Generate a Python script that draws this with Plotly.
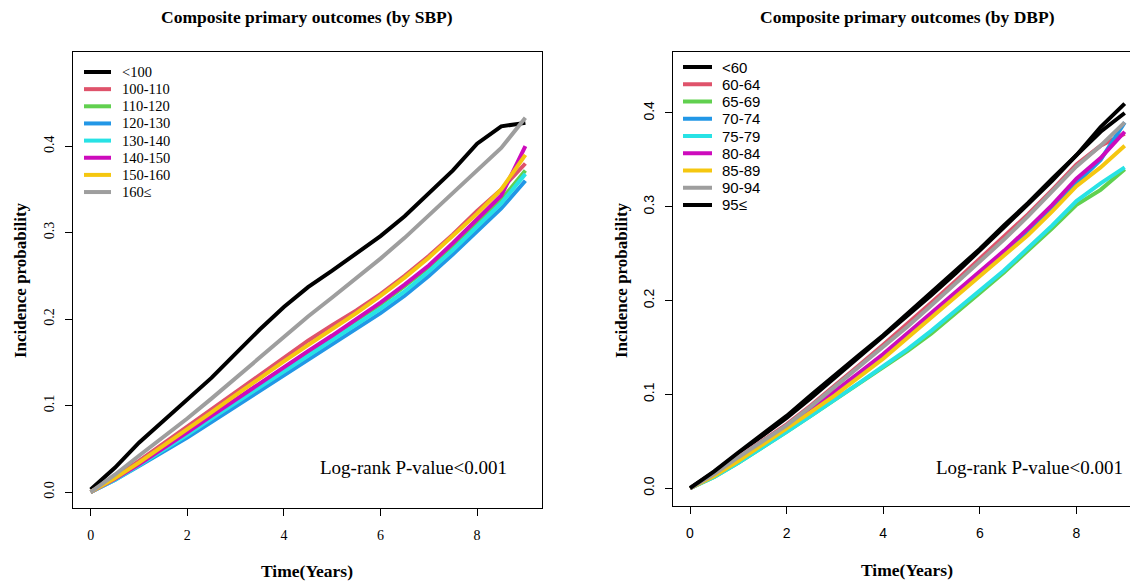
import plotly.graph_objects as go

# ---------------- data ----------------
times = [0, 0.5, 1, 1.5, 2, 2.5, 3, 3.5, 4, 4.5, 5, 5.5, 6, 6.5, 7, 7.5, 8, 8.5, 9]

sbp_labels = ["<100", "100-110", "110-120", "120-130", "130-140", "140-150", "150-160", "160≤"]
sbp_lt100   = [0.003, 0.028, 0.057, 0.082, 0.106, 0.132, 0.160, 0.188, 0.214, 0.237, 0.256, 0.276, 0.296, 0.319, 0.345, 0.372, 0.403, 0.423, 0.427]
sbp_100_110 = [0.000, 0.017, 0.036, 0.056, 0.076, 0.096, 0.116, 0.136, 0.156, 0.175, 0.193, 0.210, 0.229, 0.250, 0.273, 0.298, 0.325, 0.350, 0.380]
sbp_110_120 = [0.000, 0.015, 0.032, 0.050, 0.068, 0.087, 0.106, 0.125, 0.144, 0.162, 0.180, 0.198, 0.217, 0.238, 0.260, 0.285, 0.312, 0.338, 0.372]
sbp_120_130 = [0.000, 0.014, 0.030, 0.046, 0.063, 0.081, 0.099, 0.117, 0.135, 0.153, 0.170, 0.188, 0.207, 0.227, 0.250, 0.275, 0.302, 0.328, 0.360]
sbp_130_140 = [0.000, 0.014, 0.031, 0.048, 0.066, 0.085, 0.103, 0.122, 0.140, 0.158, 0.175, 0.193, 0.212, 0.232, 0.255, 0.280, 0.307, 0.334, 0.368]
sbp_140_150 = [0.000, 0.015, 0.032, 0.050, 0.069, 0.088, 0.107, 0.126, 0.145, 0.163, 0.181, 0.200, 0.219, 0.240, 0.262, 0.288, 0.316, 0.343, 0.400]
sbp_150_160 = [0.000, 0.016, 0.034, 0.053, 0.072, 0.092, 0.112, 0.132, 0.151, 0.170, 0.188, 0.207, 0.227, 0.248, 0.271, 0.296, 0.322, 0.350, 0.390]
sbp_ge160   = [0.000, 0.020, 0.042, 0.063, 0.085, 0.108, 0.132, 0.156, 0.180, 0.203, 0.225, 0.247, 0.270, 0.294, 0.320, 0.346, 0.373, 0.398, 0.433]

dbp_labels = ["<60", "60-64", "65-69", "70-74", "75-79", "80-84", "85-89", "90-94", "95≤"]
dbp_lt60  = [0.000, 0.017, 0.037, 0.056, 0.075, 0.096, 0.118, 0.140, 0.161, 0.184, 0.206, 0.229, 0.253, 0.278, 0.303, 0.328, 0.355, 0.385, 0.410]
dbp_60_64 = [0.000, 0.015, 0.033, 0.050, 0.068, 0.088, 0.109, 0.131, 0.153, 0.175, 0.198, 0.221, 0.245, 0.268, 0.292, 0.318, 0.345, 0.365, 0.378]
dbp_65_69 = [0.000, 0.012, 0.027, 0.043, 0.060, 0.077, 0.094, 0.111, 0.128, 0.146, 0.165, 0.186, 0.208, 0.230, 0.253, 0.277, 0.302, 0.318, 0.340]
dbp_70_74 = [0.000, 0.013, 0.029, 0.046, 0.063, 0.082, 0.101, 0.121, 0.141, 0.163, 0.185, 0.206, 0.228, 0.250, 0.274, 0.298, 0.325, 0.350, 0.390]
dbp_75_79 = [0.000, 0.012, 0.027, 0.043, 0.060, 0.077, 0.094, 0.112, 0.130, 0.148, 0.168, 0.189, 0.211, 0.232, 0.256, 0.280, 0.306, 0.325, 0.342]
dbp_80_84 = [0.000, 0.014, 0.031, 0.048, 0.065, 0.084, 0.103, 0.123, 0.143, 0.165, 0.187, 0.209, 0.231, 0.253, 0.277, 0.302, 0.330, 0.352, 0.380]
dbp_85_89 = [0.000, 0.013, 0.029, 0.046, 0.063, 0.081, 0.099, 0.118, 0.138, 0.160, 0.182, 0.203, 0.225, 0.247, 0.270, 0.295, 0.322, 0.342, 0.365]
dbp_90_94 = [0.000, 0.015, 0.033, 0.050, 0.067, 0.087, 0.108, 0.129, 0.150, 0.172, 0.195, 0.218, 0.242, 0.265, 0.290, 0.316, 0.343, 0.365, 0.390]
dbp_ge95  = [0.000, 0.018, 0.038, 0.057, 0.077, 0.099, 0.121, 0.142, 0.163, 0.186, 0.208, 0.231, 0.255, 0.280, 0.304, 0.330, 0.355, 0.380, 0.400]

x_ticks = [0, 2, 4, 6, 8]
y_ticks = [0.0, 0.1, 0.2, 0.3, 0.4]
y_ticktext = ["0.0", "0.1", "0.2", "0.3", "0.4"]

sbp_series = [sbp_lt100, sbp_100_110, sbp_110_120, sbp_120_130, sbp_130_140, sbp_140_150, sbp_150_160, sbp_ge160]
dbp_series = [dbp_lt60, dbp_60_64, dbp_65_69, dbp_70_74, dbp_75_79, dbp_80_84, dbp_85_89, dbp_90_94, dbp_ge95]

sbp_colors = ["#000000", "#DF536B", "#61D04F", "#2297E6", "#28E2E5", "#CD0BBC", "#F5C710", "#9E9E9E"]
dbp_colors = ["#000000", "#DF536B", "#61D04F", "#2297E6", "#28E2E5", "#CD0BBC", "#F5C710", "#9E9E9E", "#000000"]

# The page body has an 8px margin, so the figure is drawn 8px in from the top-left.
OFF = 8
W, H = 1138 - OFF, 584 - OFF
SERIF = "Liberation Serif"
SANS = "Liberation Sans"


def px_x(p):
    return (p - OFF) / W


def px_y(p):
    return 1 - (p - OFF) / H


fig = go.Figure()
for lab, vals, col in zip(sbp_labels, sbp_series, sbp_colors):
    fig.add_trace(go.Scatter(x=times, y=vals, mode="lines", name=lab,
                             line=dict(color=col, width=4), xaxis="x", yaxis="y"))
for lab, vals, col in zip(dbp_labels, dbp_series, dbp_colors):
    fig.add_trace(go.Scatter(x=times, y=vals, mode="lines", name=lab,
                             line=dict(color=col, width=4), xaxis="x2", yaxis="y2"))

axis_common = dict(showgrid=False, zeroline=False, showline=True, linecolor="black",
                   linewidth=1.3, ticks="outside", ticklen=7, tickcolor="black",
                   tickwidth=1.3)

fig.update_layout(
    width=W, height=H, margin=dict(l=0, r=0, t=0, b=0),
    paper_bgcolor="white", plot_bgcolor="white", showlegend=False,
    xaxis=dict(domain=[px_x(73), px_x(542)], range=[-0.366, 9.344], anchor="y",
               tickvals=x_ticks, mirror=True, ticklabelstandoff=7,
               tickfont=dict(family=SERIF, size=14, color="black"), **axis_common),
    yaxis=dict(domain=[px_y(508), px_y(52)], range=[-0.0185, 0.509], anchor="x",
               tickvals=y_ticks, ticktext=y_ticktext, tickangle=-90, mirror=True,
               ticklabelstandoff=5,
               tickfont=dict(family=SERIF, size=14, color="black"), **axis_common),
    xaxis2=dict(domain=[px_x(673), 1.0], range=[-0.352, 9.275], anchor="y2",
                tickvals=x_ticks, mirror=True, ticklabelstandoff=7,
                tickfont=dict(family=SANS, size=14, color="black"), **axis_common),
    yaxis2=dict(domain=[px_y(506), px_y(52)], range=[-0.019, 0.465], anchor="x2",
                tickvals=y_ticks, ticktext=y_ticktext, tickangle=-90, mirror=False,
                ticklabelstandoff=5,
                tickfont=dict(family=SANS, size=14, color="black"), **axis_common),
)

annos = [
    dict(text="<b>Composite primary outcomes (by SBP)</b>", x=px_x(307), y=px_y(17),
         font=dict(family=SERIF, size=17.5)),
    dict(text="<b>Composite primary outcomes (by DBP)</b>", x=px_x(907), y=px_y(17),
         font=dict(family=SERIF, size=17.5)),
    dict(text="<b>Time(Years)</b>", x=px_x(307), y=px_y(571), font=dict(family=SERIF, size=17.5)),
    dict(text="<b>Time(Years)</b>", x=px_x(907), y=px_y(570), font=dict(family=SERIF, size=17.5)),
    dict(text="<b>Incidence probability</b>", x=px_x(20), y=px_y(280), textangle=-90,
         font=dict(family=SERIF, size=17)),
    dict(text="<b>Incidence probability</b>", x=px_x(621), y=px_y(280), textangle=-90,
         font=dict(family=SERIF, size=17)),
    dict(text="Log-rank P-value<0.001", x=px_x(413), y=px_y(467), font=dict(family=SERIF, size=19)),
    dict(text="Log-rank P-value<0.001", x=px_x(1029), y=px_y(467), font=dict(family=SERIF, size=19)),
]
for a in annos:
    fig.add_annotation(xref="paper", yref="paper", showarrow=False,
                       xanchor="center", yanchor="middle", **a)

# ---- legends (R-style, no box) ----
def add_legend(labels, colors, line_x0, line_x1, text_x, y0, dy, family, size):
    for i, (lab, col) in enumerate(zip(labels, colors)):
        yy = y0 + i * dy
        fig.add_shape(type="line", xref="paper", yref="paper",
                      x0=px_x(line_x0), x1=px_x(line_x1), y0=px_y(yy), y1=px_y(yy),
                      line=dict(color=col, width=4))
        fig.add_annotation(xref="paper", yref="paper", showarrow=False,
                           x=px_x(text_x), y=px_y(yy), xanchor="left", yanchor="middle",
                           text=lab.replace("<", "&lt;"),
                           font=dict(family=family, size=size, color="black"))


add_legend(sbp_labels, sbp_colors, 84, 111, 120, 72, 17.15, SERIF, 14.5)
add_legend(dbp_labels, dbp_colors, 683, 712, 720, 67, 17.25, SANS, 15)

for a in fig.layout.annotations:
    a.font.color = "black"

fig.write_html("out.html")
